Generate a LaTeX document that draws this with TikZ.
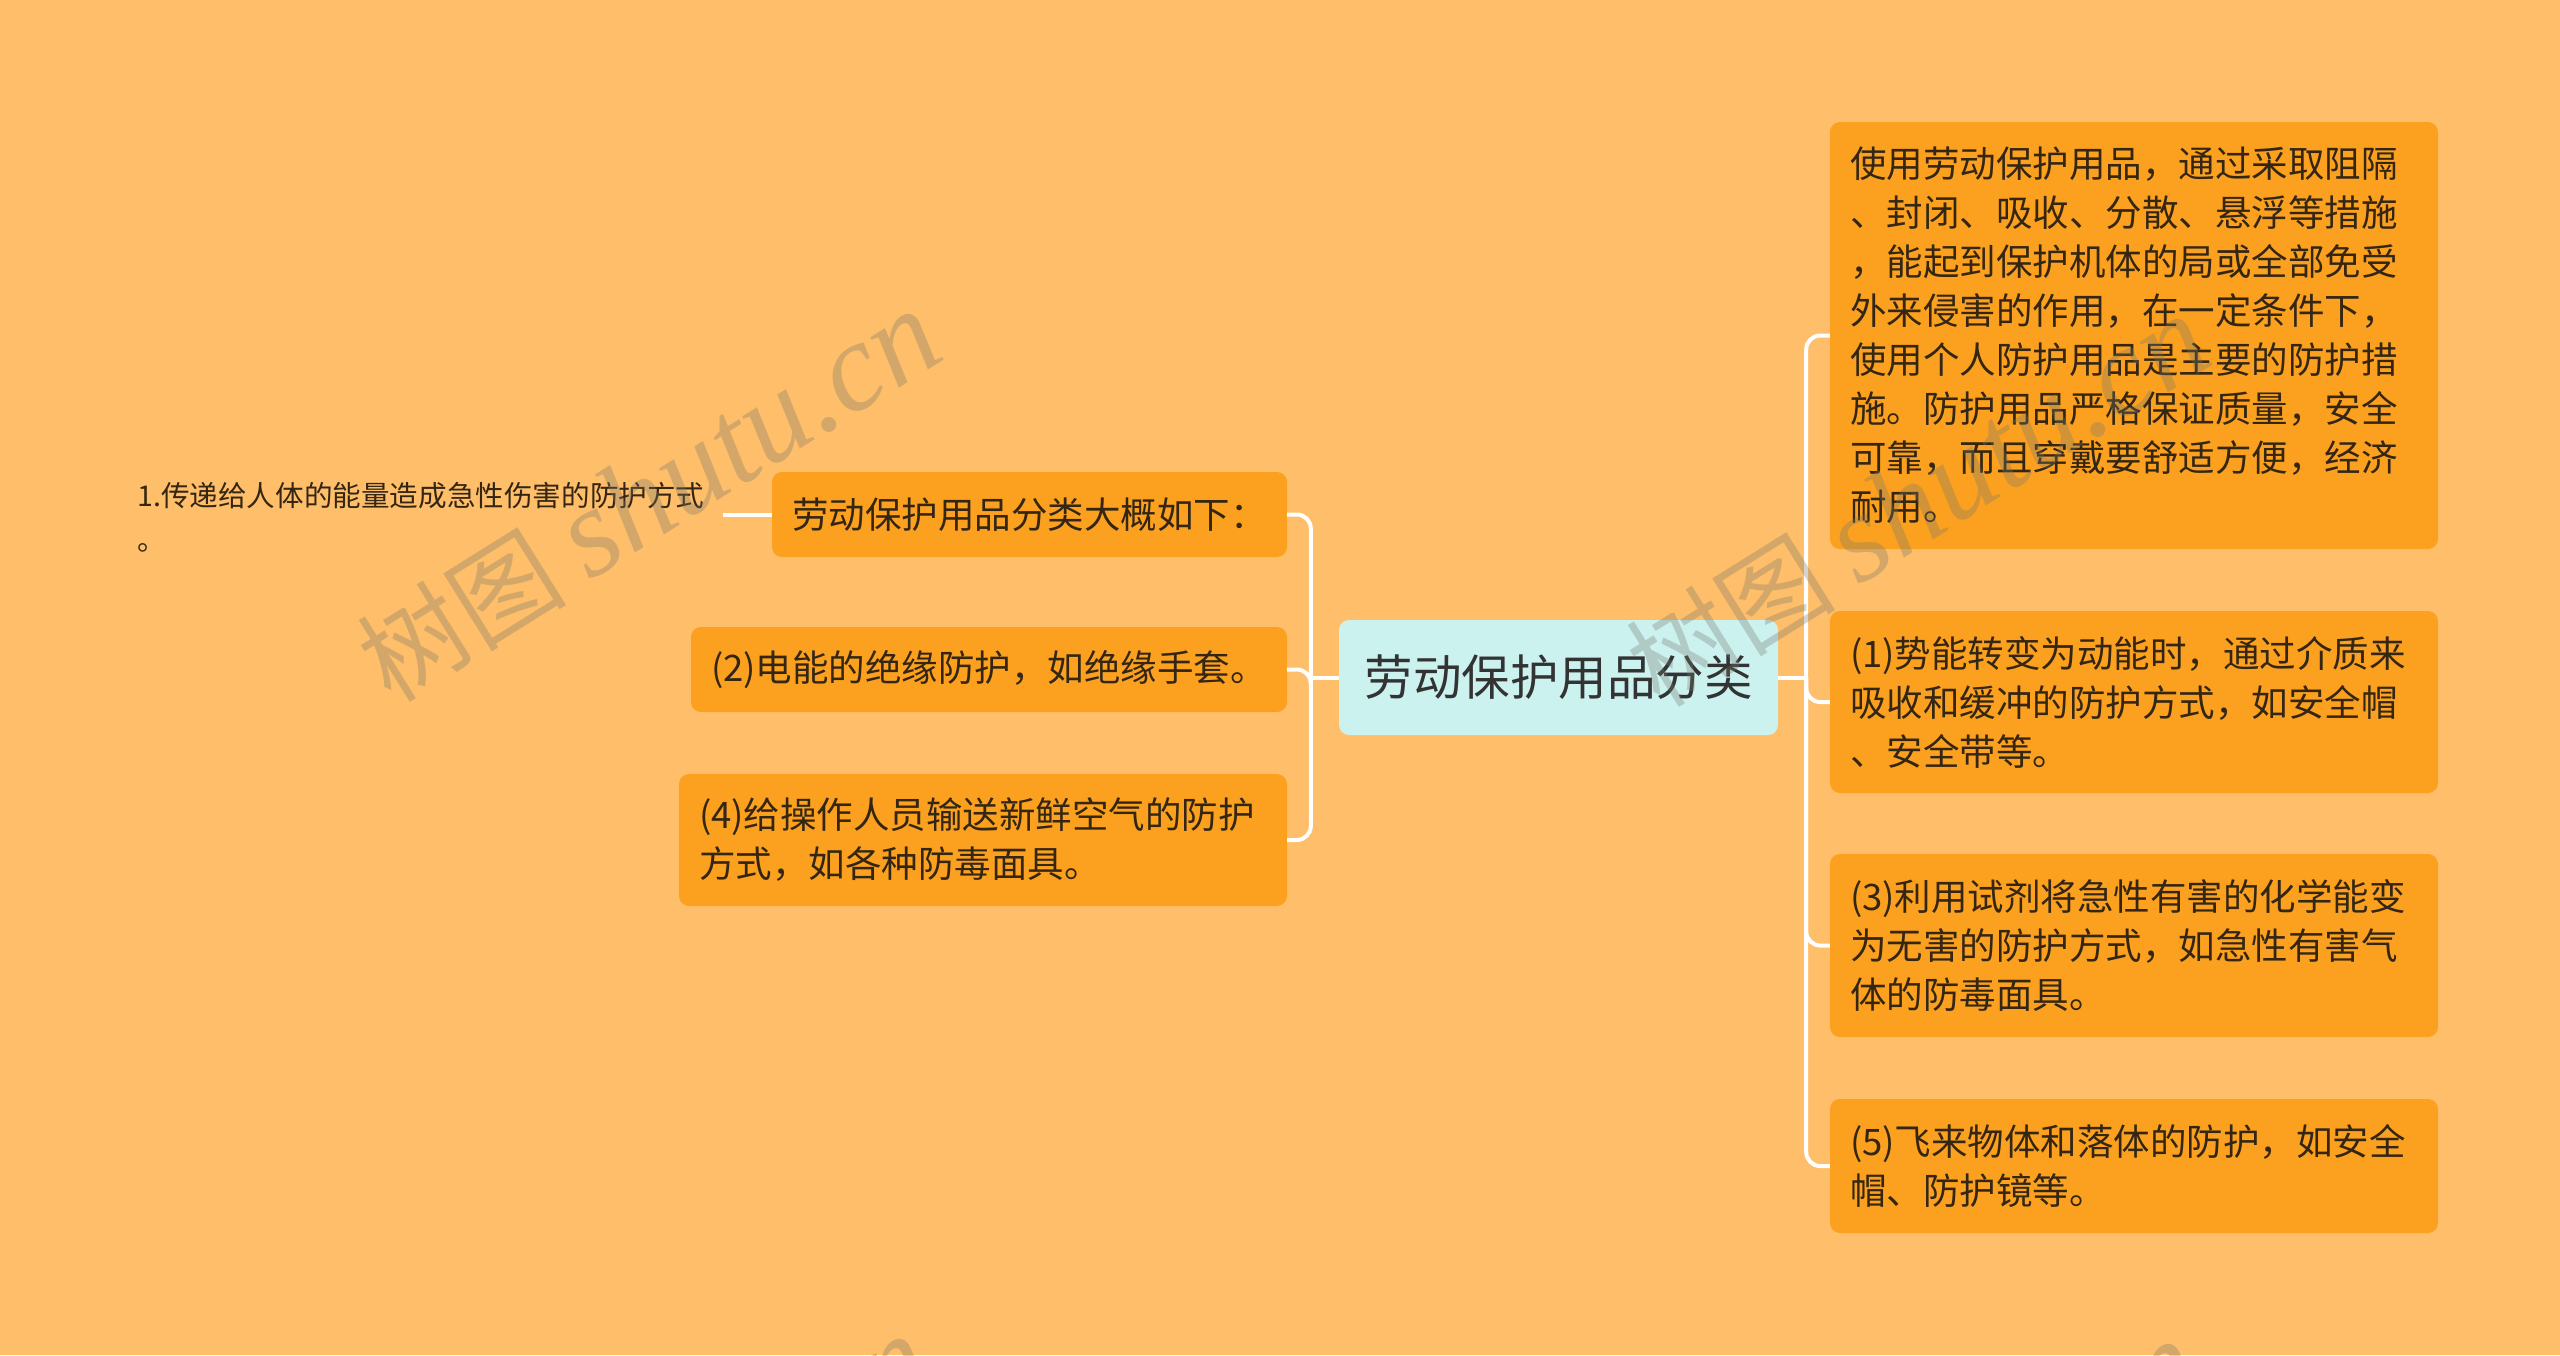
\documentclass[tikz,border=0pt]{standalone}
\usepackage{fontspec}
\setmainfont{Noto Sans CJK SC}
\newfontfamily\wmlatin{Liberation Serif}
\definecolor{bgc}{RGB}{255,190,105}
\definecolor{boxc}{RGB}{251,161,31}
\definecolor{rootc}{RGB}{204,242,240}
\definecolor{txtc}{RGB}{52,38,18}
\definecolor{roottxt}{RGB}{51,51,51}
\definecolor{wmc}{RGB}{120,120,110}
\begin{document}
\begin{tikzpicture}[x=1pt,y=-1pt,
  box/.style={fill=boxc, rounded corners=10pt, text=txtc, align=left, inner xsep=20pt, inner ysep=0pt, font=\fontsize{36.5}{49}\selectfont},
  rootbox/.style={fill=rootc, rounded corners=10pt, text=roottxt, inner sep=0pt, font=\fontsize{48.5}{58}\selectfont},
  leaf/.style={text=txtc, align=left, inner sep=0pt, font=\fontsize{28.6}{44}\selectfont},
  conn/.style={draw=white, line width=4pt, rounded corners=14pt},
  wm/.style={text=wmc, text opacity=0.32, rotate=32, inner sep=0pt}
]
\useasboundingbox (0,0) rectangle (2560,1355);
\fill[bgc] (0,0) rectangle (2560,1355);

% root
\node[rootbox, minimum width=439pt, minimum height=115pt] (root) at (1558.5,677.5) {劳动保护用品分类};

% right children
\node[box, text width=568pt, minimum height=427pt] (r1) at (2134,335.5) {使用劳动保护用品，通过采取阻隔\\、封闭、吸收、分散、悬浮等措施\\，能起到保护机体的局或全部免受\\外来侵害的作用，在一定条件下，\\使用个人防护用品是主要的防护措\\施。防护用品严格保证质量，安全\\可靠，而且穿戴要舒适方便，经济\\耐用。};
\node[box, text width=568pt, minimum height=182pt] (r2) at (2134,702) {(1)势能转变为动能时，通过介质来\\吸收和缓冲的防护方式，如安全帽\\、安全带等。};
\node[box, text width=568pt, minimum height=183pt] (r3) at (2134,945.5) {(3)利用试剂将急性有害的化学能变\\为无害的防护方式，如急性有害气\\体的防毒面具。};
\node[box, text width=568pt, minimum height=134pt] (r5) at (2134,1166) {(5)飞来物体和落体的防护，如安全\\帽、防护镜等。};

% left children
\node[box, text width=475pt, minimum height=85pt] (l1) at (1029.5,514.5) {劳动保护用品分类大概如下：};
\node[box, text width=556pt, minimum height=85pt] (l2) at (989,669.5) {(2)电能的绝缘防护，如绝缘手套。};
\node[box, text width=568pt, minimum height=132pt] (l4) at (983,840) {(4)给操作人员输送新鲜空气的防护\\方式，如各种防毒面具。};

% leaf
\node[leaf, anchor=west] (leaf) at (137,517) {1.传递给人体的能量造成急性伤害的防护方式\\。};

% connectors
\coordinate (rb) at ([xshift=28pt]root.east);
\coordinate (lb) at ([xshift=-28pt]root.west);
\draw[conn] (root.east) -- (rb);
\draw[conn] (root.west) -- (lb);
\foreach \c in {r1,r2,r3,r5} \draw[conn] (rb) |- (\c.west);
\foreach \c in {l1,l2,l4} \draw[conn] (lb) |- (\c.east);
\draw[conn] ([xshift=18pt]leaf.east |- l1.west) -- (l1.west);

% watermarks
\begin{scope}
\clip (0,0) rectangle (2560,1355);
\foreach \p in {(649,497),(1918,502),(640,1522),(1909,1527)}
  \node[wm] at \p {\fontsize{105}{105}\selectfont 树图 {\wmlatin\itshape\fontsize{126}{126}\selectfont shutu.cn}};
\end{scope}
\end{tikzpicture}
\end{document}
